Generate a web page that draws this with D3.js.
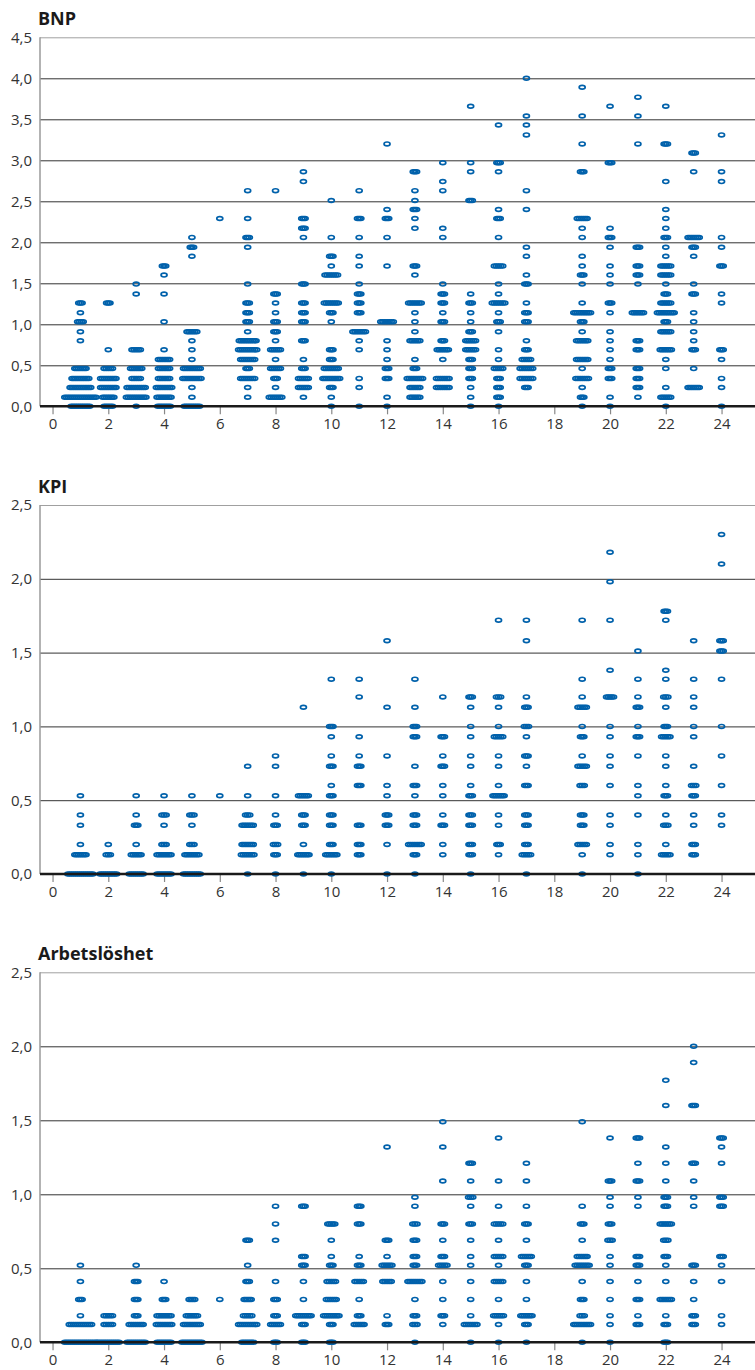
<!DOCTYPE html>
<html>
<head>
<meta charset="utf-8">
<script src="https://cdn.jsdelivr.net/npm/d3@7"></script>
<style>
  body { margin: 0; background: #fff; }
  text { font-family: "Open Sans", "Noto Sans", sans-serif; }
</style>
</head>
<body>
<div class="chart"></div>
<script>
// horizons on the x axis, tick labels
const xTickValues = [0, 2, 4, 6, 8, 10, 12, 14, 16, 18, 20, 22, 24];
const bnpTicks = [0, 0.5, 1, 1.5, 2, 2.5, 3, 3.5, 4, 4.5];
const pctTicks = [0, 0.5, 1, 1.5, 2, 2.5];
const titles = ["BNP", "KPI", "Arbetslöshet"];

// [horizon, absolute error, horizontal spread of overlapping points]
const bnpPts = [
  [1,0,.67],[1,.11,1.12],[1,.23,.74],[1,.34,.6],[1,.46,.4],[1,.8,0],[1,.91,0],[1,1.03,.2],[1,1.14,0],[1,1.26,.12],
  [2,0,.3],[2,.11,.4],[2,.23,.55],[2,.34,.55],[2,.46,.3],[2,.69,0],[2,1.26,.12],
  [3,0,0],[3,.11,.7],[3,.23,.65],[3,.34,.3],[3,.46,.4],[3,.69,.3],[3,1.37,0],[3,1.49,0],
  [4,0,.45],[4,.11,.5],[4,.23,.55],[4,.34,.4],[4,.46,.4],[4,.57,.4],[4,.69,0],[4,1.03,0],[4,1.37,0],[4,1.6,0],[4,1.71,.12],
  [5,0,.55],[5,.11,0],[5,.23,0],[5,.34,.65],[5,.46,.6],[5,.57,0],[5,.69,0],[5,.8,0],[5,.91,.35],[5,1.83,0],[5,1.94,.12],[5,2.06,0],
  [6,2.29,0],
  [7,.11,0],[7,.23,0],[7,.34,.5],[7,.46,.12],[7,.57,.5],[7,.69,.65],[7,.8,.6],[7,.91,0],[7,1.03,.12],[7,1.14,.12],[7,1.26,.12],[7,1.49,0],[7,1.94,0],[7,2.06,.12],[7,2.29,0],[7,2.63,0],
  [8,.11,.45],[8,.23,0],[8,.34,.12],[8,.46,.35],[8,.57,0],[8,.69,.35],[8,.8,0],[8,.91,.12],[8,1.03,.12],[8,1.14,0],[8,1.26,0],[8,1.37,.12],[8,2.63,0],
  [9,.11,0],[9,.23,.35],[9,.34,.35],[9,.46,.12],[9,.57,0],[9,.8,.12],[9,1.03,.12],[9,1.14,.12],[9,1.26,.12],[9,1.49,.12],[9,2.06,0],[9,2.17,.12],[9,2.29,.12],[9,2.74,0],[9,2.86,0],
  [10,0,0],[10,.11,0],[10,.23,.12],[10,.34,.6],[10,.46,.5],[10,.57,.12],[10,.69,.12],[10,1.03,0],[10,1.14,.12],[10,1.26,.5],[10,1.6,.45],[10,1.71,0],[10,1.83,.12],[10,2.06,0],[10,2.51,0],
  [11,0,0],[11,.23,0],[11,.34,0],[11,.69,0],[11,.8,0],[11,.91,.45],[11,1.14,.12],[11,1.26,.12],[11,1.37,.12],[11,1.49,0],[11,1.71,0],[11,1.83,0],[11,2.06,0],[11,2.29,.12],[11,2.63,0],
  [12,0,0],[12,.11,0],[12,.34,.12],[12,.46,.12],[12,.57,0],[12,.69,0],[12,.8,0],[12,1.03,.45],[12,1.71,0],[12,2.06,0],[12,2.29,.12],[12,2.4,0],[12,3.2,0],
  [13,.11,.35],[13,.23,.35],[13,.34,.55],[13,.46,.12],[13,.57,0],[13,.8,.35],[13,.91,0],[13,1.03,0],[13,1.14,0],[13,1.26,.45],[13,1.6,0],[13,1.71,.12],[13,2.17,0],[13,2.29,0],[13,2.4,.12],[13,2.51,0],[13,2.63,0],[13,2.86,.12],
  [14,.23,.45],[14,.34,.45],[14,.57,0],[14,.69,.4],[14,.8,.12],[14,1.03,.12],[14,1.14,0],[14,1.26,.12],[14,1.37,.12],[14,1.49,0],[14,2.06,0],[14,2.17,0],[14,2.63,0],[14,2.74,0],[14,2.97,0],
  [15,0,0],[15,.11,0],[15,.23,0],[15,.34,.12],[15,.46,.12],[15,.57,.12],[15,.69,.35],[15,.8,.35],[15,.91,.12],[15,1.03,0],[15,1.14,0],[15,1.26,.12],[15,1.37,0],[15,2.51,.12],[15,2.86,0],[15,2.97,0],[15,3.66,0],
  [16,0,0],[16,.11,.12],[16,.23,.12],[16,.34,.12],[16,.46,.3],[16,.57,0],[16,.69,0],[16,.91,0],[16,1.03,.12],[16,1.14,0],[16,1.26,.45],[16,1.37,0],[16,1.49,0],[16,1.71,.3],[16,2.06,0],[16,2.29,.12],[16,2.4,0],[16,2.86,0],[16,2.97,.12],[16,3.43,0],
  [17,.23,.12],[17,.34,.45],[17,.46,.45],[17,.57,.3],[17,.69,.12],[17,.8,0],[17,1.03,.12],[17,1.14,.12],[17,1.26,0],[17,1.49,.12],[17,1.6,0],[17,1.83,0],[17,1.94,0],[17,2.4,0],[17,2.63,0],[17,3.31,0],[17,3.43,0],[17,3.54,0],[17,4.0,0],
  [19,0,0],[19,.11,.12],[19,.23,0],[19,.34,.45],[19,.46,0],[19,.57,.4],[19,.8,.4],[19,.91,0],[19,1.03,.12],[19,1.14,.6],[19,1.26,0],[19,1.49,0],[19,1.6,.12],[19,1.71,0],[19,1.83,0],[19,2.06,0],[19,2.17,0],[19,2.29,.35],[19,2.86,.12],[19,3.2,0],[19,3.54,0],[19,3.89,0],
  [20,0,0],[20,.11,0],[20,.34,.12],[20,.46,.12],[20,.57,0],[20,.69,0],[20,.8,0],[20,.91,0],[20,1.14,0],[20,1.26,.12],[20,1.49,0],[20,1.6,0],[20,1.71,0],[20,1.94,0],[20,2.06,.12],[20,2.17,0],[20,2.97,.12],[20,3.66,0],
  [21,.11,0],[21,.23,.12],[21,.34,.12],[21,.46,.12],[21,.69,.12],[21,.8,.12],[21,1.14,.4],[21,1.49,0],[21,1.6,.12],[21,1.71,.12],[21,1.94,.12],[21,3.2,0],[21,3.54,0],[21,3.77,0],
  [22,0,0],[22,.11,.35],[22,.23,0],[22,.46,0],[22,.57,0],[22,.69,.4],[22,.91,.35],[22,1.03,.12],[22,1.14,.6],[22,1.26,.35],[22,1.37,.12],[22,1.49,0],[22,1.6,.35],[22,1.71,.35],[22,1.83,0],[22,1.94,0],[22,2.06,.12],[22,2.17,0],[22,2.29,0],[22,2.4,0],[22,2.74,0],[22,3.2,.12],[22,3.66,0],
  [23,.23,.4],[23,.46,0],[23,.69,.12],[23,.8,0],[23,.91,0],[23,1.03,0],[23,1.14,0],[23,1.37,.12],[23,1.49,0],[23,1.83,0],[23,1.94,.12],[23,2.06,.4],[23,2.86,0],[23,3.09,.12],
  [24,0,0],[24,.23,0],[24,.34,0],[24,.57,0],[24,.69,.12],[24,1.26,0],[24,1.37,0],[24,1.71,.12],[24,1.94,0],[24,2.06,0],[24,2.74,0],[24,2.86,0],[24,3.31,0]
];

const kpiPts = [
  [1,0,.9],[1,.13,.4],[1,.2,0],[1,.33,0],[1,.4,0],[1,.53,0],
  [2,0,.6],[2,.13,.15],[2,.2,0],
  [3,0,.5],[3,.13,.35],[3,.2,0],[3,.33,.12],[3,.4,0],[3,.53,0],
  [4,0,.5],[4,.13,.5],[4,.2,.15],[4,.33,0],[4,.4,.15],[4,.53,0],
  [5,0,.6],[5,.13,.5],[5,.2,.15],[5,.33,0],[5,.4,.15],[5,.53,0],
  [6,.53,0],
  [7,0,0],[7,.13,.45],[7,.2,.4],[7,.33,.4],[7,.4,.15],[7,.53,0],[7,.73,0],
  [8,0,0],[8,.13,.12],[8,.2,.15],[8,.33,.12],[8,.4,0],[8,.53,0],[8,.73,0],[8,.8,0],
  [9,0,0],[9,.13,.4],[9,.2,0],[9,.33,.12],[9,.4,.12],[9,.53,.35],[9,1.13,0],
  [10,0,0],[10,.13,.4],[10,.2,.12],[10,.33,.12],[10,.4,.12],[10,.53,.12],[10,.6,0],[10,.73,.12],[10,.8,0],[10,.93,0],[10,1.0,.12],[10,1.32,0],
  [11,.13,.12],[11,.2,.12],[11,.33,.12],[11,.6,.12],[11,.73,.12],[11,.8,0],[11,.93,0],[11,1.2,0],[11,1.32,0],
  [12,0,0],[12,.2,0],[12,.33,.12],[12,.4,.12],[12,.53,0],[12,.6,0],[12,.8,0],[12,1.13,0],[12,1.58,0],
  [13,0,0],[13,.13,.12],[13,.2,.45],[13,.33,.12],[13,.4,.12],[13,.53,0],[13,.6,.12],[13,.73,0],[13,.93,.12],[13,1.0,.12],[13,1.13,0],[13,1.32,0],
  [14,.13,0],[14,.2,0],[14,.33,.12],[14,.4,0],[14,.53,0],[14,.6,0],[14,.73,.12],[14,.8,0],[14,.93,.12],[14,1.2,0],
  [15,0,0],[15,.13,.12],[15,.2,.12],[15,.33,.12],[15,.4,.12],[15,.53,.12],[15,.6,0],[15,.73,0],[15,.8,0],[15,.93,0],[15,1.0,0],[15,1.13,0],[15,1.2,.12],
  [16,.13,0],[16,.2,.12],[16,.33,0],[16,.4,0],[16,.53,.4],[16,.6,0],[16,.73,0],[16,.8,0],[16,.93,.3],[16,1.0,0],[16,1.13,0],[16,1.2,.15],[16,1.72,0],
  [17,0,0],[17,.13,.3],[17,.2,.12],[17,.33,.12],[17,.4,.12],[17,.6,.12],[17,.73,0],[17,.8,.12],[17,.93,0],[17,1.0,.15],[17,1.13,.12],[17,1.2,0],[17,1.58,0],[17,1.72,0],
  [19,0,0],[19,.13,0],[19,.2,.3],[19,.33,.12],[19,.4,.12],[19,.6,.15],[19,.73,.3],[19,.8,0],[19,.93,.12],[19,1.0,0],[19,1.13,.3],[19,1.2,0],[19,1.32,0],[19,1.72,0],
  [20,.13,0],[20,.2,0],[20,.33,0],[20,.4,0],[20,.6,0],[20,.73,0],[20,.8,0],[20,.93,0],[20,1.0,0],[20,1.2,.25],[20,1.38,0],[20,1.72,0],[20,1.98,0],[20,2.18,0],
  [21,0,0],[21,.13,0],[21,.2,0],[21,.4,0],[21,.53,0],[21,.6,0],[21,.8,0],[21,.93,.12],[21,1.0,0],[21,1.13,.12],[21,1.2,0],[21,1.32,0],[21,1.51,0],
  [22,.13,.3],[22,.2,0],[22,.33,.15],[22,.4,0],[22,.53,.12],[22,.6,0],[22,.73,0],[22,.8,0],[22,.93,.3],[22,1.0,.12],[22,1.13,0],[22,1.2,.15],[22,1.32,0],[22,1.38,0],[22,1.72,0],[22,1.78,.12],
  [23,.13,.12],[23,.2,.12],[23,.33,0],[23,.4,0],[23,.53,.12],[23,.6,.15],[23,.73,0],[23,.93,0],[23,1.0,0],[23,1.13,0],[23,1.2,0],[23,1.32,0],[23,1.58,0],
  [24,.33,0],[24,.4,0],[24,.6,0],[24,.8,0],[24,1.0,0],[24,1.32,0],[24,1.51,.12],[24,1.58,.12],[24,2.1,0],[24,2.3,0]
];

const arbPts = [
  [1,0,1.13],[1,.12,.8],[1,.18,0],[1,.29,.12],[1,.41,0],[1,.52,0],
  [2,0,.78],[2,.12,.3],[2,.18,.3],
  [3,0,.65],[3,.12,.5],[3,.18,.12],[3,.29,.12],[3,.41,.12],[3,.52,0],
  [4,0,.5],[4,.12,.55],[4,.18,.5],[4,.29,.12],[4,.41,0],
  [5,0,.72],[5,.12,.6],[5,.18,.4],[5,.29,.2],
  [6,.29,0],
  [7,0,.42],[7,.12,.65],[7,.18,.3],[7,.29,.25],[7,.41,.12],[7,.52,0],[7,.69,.12],
  [8,0,.12],[8,.12,.35],[8,.18,.12],[8,.29,.12],[8,.41,0],[8,.69,0],[8,.8,0],[8,.92,0],
  [9,0,.12],[9,.12,.12],[9,.18,.55],[9,.29,0],[9,.41,0],[9,.52,.12],[9,.58,.12],[9,.92,.12],
  [10,0,.12],[10,.12,.12],[10,.18,.55],[10,.29,.35],[10,.41,.3],[10,.52,.12],[10,.58,0],[10,.69,0],[10,.8,.25],
  [11,.12,.35],[11,.18,.12],[11,.29,0],[11,.41,.3],[11,.52,.12],[11,.58,0],[11,.8,.12],[11,.92,.12],
  [12,.12,.12],[12,.18,0],[12,.41,.3],[12,.52,.35],[12,.58,0],[12,.69,.12],[12,1.32,0],
  [13,0,0],[13,.12,.15],[13,.18,.12],[13,.29,0],[13,.41,.5],[13,.52,.12],[13,.58,.12],[13,.69,.12],[13,.8,.15],[13,.92,0],[13,.98,0],
  [14,.12,0],[14,.18,.12],[14,.29,0],[14,.41,0],[14,.52,.3],[14,.58,.12],[14,.69,0],[14,.8,.12],[14,1.09,0],[14,1.32,0],[14,1.49,0],
  [15,0,0],[15,.12,.45],[15,.18,0],[15,.29,0],[15,.41,0],[15,.52,0],[15,.58,0],[15,.69,0],[15,.8,.12],[15,.92,0],[15,.98,.15],[15,1.09,0],[15,1.21,.12],
  [16,0,0],[16,.12,0],[16,.18,.35],[16,.29,0],[16,.41,.3],[16,.52,0],[16,.58,.3],[16,.69,0],[16,.8,.3],[16,.92,0],[16,1.09,0],[16,1.38,0],
  [17,0,0],[17,.12,.12],[17,.18,.4],[17,.29,0],[17,.41,0],[17,.52,.12],[17,.58,.35],[17,.69,0],[17,.8,.12],[17,.92,0],[17,1.09,0],[17,1.21,0],
  [19,0,0],[19,.12,.6],[19,.18,.15],[19,.29,.12],[19,.41,0],[19,.52,.5],[19,.58,.35],[19,.69,0],[19,.8,.12],[19,.92,0],[19,1.49,0],
  [20,0,0],[20,.12,0],[20,.18,0],[20,.29,0],[20,.41,0],[20,.52,0],[20,.58,0],[20,.69,.15],[20,.8,.12],[20,.92,0],[20,.98,0],[20,1.09,.12],[20,1.38,0],
  [21,.12,.12],[21,.18,0],[21,.29,.12],[21,.41,0],[21,.52,.12],[21,.58,.12],[21,.92,0],[21,.98,0],[21,1.09,.12],[21,1.21,0],[21,1.38,.12],
  [22,0,.12],[22,.12,.12],[22,.18,0],[22,.29,.4],[22,.41,0],[22,.52,0],[22,.58,.12],[22,.69,.15],[22,.8,.4],[22,.92,.12],[22,.98,.12],[22,1.09,0],[22,1.21,0],[22,1.32,0],[22,1.6,0],[22,1.77,0],
  [23,.12,.12],[23,.18,.12],[23,.29,0],[23,.41,0],[23,.52,.12],[23,.92,0],[23,.98,0],[23,1.09,0],[23,1.21,.12],[23,1.6,.12],[23,1.89,0],[23,2.0,0],
  [24,.12,0],[24,.18,0],[24,.41,0],[24,.52,0],[24,.58,.12],[24,.92,.12],[24,.98,.12],[24,1.21,0],[24,1.32,0],[24,1.38,.12]
];

const W = 755, H = 1370;
const left = 40, right = 755;
const blue = "#0061ab";

const svg = d3.select(".chart").append("svg")
  .attr("width", W)
  .attr("height", H);

const xScale = d3.scaleLinear().domain([-0.45, 25.2]).range([left, right]);
const fmt = d => d3.format(".1f")(d).replace(".", ",");

const panels = [
  {title: titles[0], pts: bnpPts, ticks: bnpTicks, top: 37.3, bottom: 406.3},
  {title: titles[1], pts: kpiPts, ticks: pctTicks, top: 505, bottom: 874},
  {title: titles[2], pts: arbPts, ticks: pctTicks, top: 972.3, bottom: 1342.3}
];

panels.forEach(p => {
  const g = svg.append("g");
  const yMax = d3.max(p.ticks);
  const yScale = d3.scaleLinear().domain([0, yMax]).range([p.bottom, p.top]);

  g.append("text")
    .attr("x", 38)
    .attr("y", p.top - 12)
    .attr("font-size", 18)
    .attr("font-weight", "bold")
    .attr("fill", "#1a1a1a")
    .text(p.title);

  // y axis with gridlines
  g.append("g")
    .attr("transform", `translate(${left},0)`)
    .call(d3.axisLeft(yScale).tickValues(p.ticks).tickSize(-(right - left)).tickPadding(8).tickFormat(fmt))
    .call(a => a.select(".domain").remove())
    .call(a => a.selectAll(".tick line")
      .attr("stroke", d => d === yMax ? "#a0a0a0" : "#333")
      .attr("stroke-width", d => d === 0 ? 0 : 1))
    .call(a => a.selectAll(".tick text")
      .attr("font-size", 15)
      .attr("fill", "#333")
      .style("font-family", "'Open Sans', 'Noto Sans', sans-serif"));

  // left axis line
  g.append("line")
    .attr("x1", left).attr("x2", left)
    .attr("y1", p.top).attr("y2", p.bottom)
    .attr("stroke", "#9a9a9a")
    .attr("stroke-width", 1.5);

  // x axis
  g.append("g")
    .attr("transform", `translate(0,${p.bottom})`)
    .call(d3.axisBottom(xScale).tickValues(xTickValues).tickSize(8).tickPadding(4).tickFormat(d3.format("d")))
    .call(a => a.select(".domain").remove())
    .call(a => a.selectAll(".tick line").attr("stroke", "#888").attr("stroke-width", 1.2))
    .call(a => a.selectAll(".tick text")
      .attr("font-size", 15)
      .attr("fill", "#333")
      .style("font-family", "'Open Sans', 'Noto Sans', sans-serif"));

  // points: overlapping forecasts are spread out horizontally
  const marks = [];
  p.pts.forEach(([h, v, w]) => {
    if (w === 0) { marks.push([h, v]); return; }
    const n = Math.max(2, Math.round(w / 0.07) + 1);
    for (let i = 0; i < n; i++) marks.push([h - w / 2 + w * i / (n - 1), v]);
  });

  g.append("g")
    .selectAll("ellipse")
    .data(marks)
    .join("ellipse")
      .attr("cx", d => xScale(d[0]))
      .attr("cy", d => yScale(d[1]))
      .attr("rx", 3)
      .attr("ry", 1.9)
      .attr("fill", "none")
      .attr("stroke", blue)
      .attr("stroke-width", 1.7);

  // baseline
  g.append("line")
    .attr("x1", left).attr("x2", right)
    .attr("y1", p.bottom).attr("y2", p.bottom)
    .attr("stroke", "#1a1a1a")
    .attr("stroke-width", 2.5);
});
</script>
</body>
</html>
